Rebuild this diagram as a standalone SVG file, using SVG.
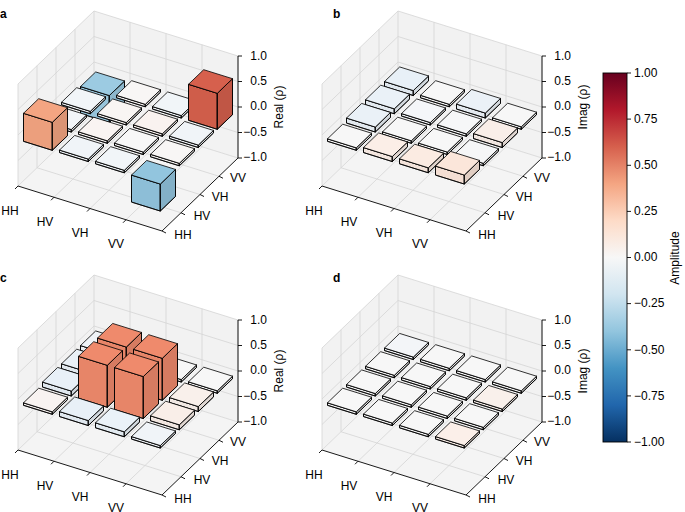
<svg xmlns="http://www.w3.org/2000/svg" xmlns:xlink="http://www.w3.org/1999/xlink" width="685" height="512" viewBox="0 0 685 512">
<style>
text{font-family:"Liberation Sans",Arial,sans-serif;font-size:12px;fill:#000}
.pane{fill:#f2f2f2;stroke:none}
.floor{fill:#f4f4f4;stroke:none}
.grid{stroke:#d4d4d4;stroke-width:0.8;fill:none}
.ax{stroke:#000;stroke-width:0.9;fill:none}
.bar polygon{stroke:#000;stroke-width:0.8;stroke-linejoin:round}
.s1{fill:#000;fill-opacity:0.03}
.s2{fill:#000;fill-opacity:0.1}
.lbl{font-weight:bold}
</style>
<defs>
<linearGradient id="cmap" x1="0" y1="0" x2="0" y2="1">
<stop offset="0" stop-color="#67001f"/><stop offset="0.1" stop-color="#b2182b"/><stop offset="0.2" stop-color="#d6604d"/><stop offset="0.3" stop-color="#f4a582"/><stop offset="0.4" stop-color="#fddbc7"/><stop offset="0.5" stop-color="#f7f7f7"/><stop offset="0.6" stop-color="#d1e5f0"/><stop offset="0.7" stop-color="#92c5de"/><stop offset="0.8" stop-color="#4393c3"/><stop offset="0.9" stop-color="#2166ac"/><stop offset="1" stop-color="#053061"/>
</linearGradient>
<g id="t" class="bar">
<polygon points="5.5,-0.7 34.3,8.3 34.3,5.8 5.5,-3.2"/><polygon class="s1" points="5.5,-0.7 34.3,8.3 34.3,5.8 5.5,-3.2"/>
<polygon points="34.3,8.3 49.5,-6.3 49.5,-8.8 34.3,5.8"/><polygon class="s2" points="34.3,8.3 49.5,-6.3 49.5,-8.8 34.3,5.8"/>
<polygon points="5.5,-3.2 34.3,5.8 49.5,-8.8 20.7,-17.8"/>
</g>
<g id="t2" class="bar">
<polygon points="5.5,-0.7 34.3,8.3 34.3,3.3 5.5,-5.7"/><polygon class="s1" points="5.5,-0.7 34.3,8.3 34.3,3.3 5.5,-5.7"/>
<polygon points="34.3,8.3 49.5,-6.3 49.5,-11.3 34.3,3.3"/><polygon class="s2" points="34.3,8.3 49.5,-6.3 49.5,-11.3 34.3,3.3"/>
<polygon points="5.5,-5.7 34.3,3.3 49.5,-11.3 20.7,-20.3"/>
</g>
<g id="t3" class="bar">
<polygon points="5.5,-0.7 34.3,8.3 34.3,-0.7 5.5,-9.7"/><polygon class="s1" points="5.5,-0.7 34.3,8.3 34.3,-0.7 5.5,-9.7"/>
<polygon points="34.3,8.3 49.5,-6.3 49.5,-15.3 34.3,-0.7"/><polygon class="s2" points="34.3,8.3 49.5,-6.3 49.5,-15.3 34.3,-0.7"/>
<polygon points="5.5,-9.7 34.3,-0.7 49.5,-15.3 20.7,-24.3"/>
</g>
<g id="uA" class="bar">
<polygon points="5.5,-0.7 34.3,8.3 34.3,-19.7 5.5,-28.7"/><polygon class="s1" points="5.5,-0.7 34.3,8.3 34.3,-19.7 5.5,-28.7"/>
<polygon points="34.3,8.3 49.5,-6.3 49.5,-34.3 34.3,-19.7"/><polygon class="s2" points="34.3,8.3 49.5,-6.3 49.5,-34.3 34.3,-19.7"/>
<polygon points="5.5,-28.7 34.3,-19.7 49.5,-34.3 20.7,-43.3"/>
</g>
<g id="uB" class="bar">
<polygon points="5.5,-0.7 34.3,8.3 34.3,-27.7 5.5,-36.7"/><polygon class="s1" points="5.5,-0.7 34.3,8.3 34.3,-27.7 5.5,-36.7"/>
<polygon points="34.3,8.3 49.5,-6.3 49.5,-42.3 34.3,-27.7"/><polygon class="s2" points="34.3,8.3 49.5,-6.3 49.5,-42.3 34.3,-27.7"/>
<polygon points="5.5,-36.7 34.3,-27.7 49.5,-42.3 20.7,-51.3"/>
</g>
<g id="uC" class="bar">
<polygon points="5.5,-0.7 34.3,8.3 34.3,-33.7 5.5,-42.7"/><polygon class="s1" points="5.5,-0.7 34.3,8.3 34.3,-33.7 5.5,-42.7"/>
<polygon points="34.3,8.3 49.5,-6.3 49.5,-48.3 34.3,-33.7"/><polygon class="s2" points="34.3,8.3 49.5,-6.3 49.5,-48.3 34.3,-33.7"/>
<polygon points="5.5,-42.7 34.3,-33.7 49.5,-48.3 20.7,-57.3"/>
</g>
<g id="dA" class="bar">
<polygon points="5.5,-0.7 34.3,8.3 34.3,35.3 5.5,26.3"/><polygon class="s1" points="5.5,-0.7 34.3,8.3 34.3,35.3 5.5,26.3"/>
<polygon points="34.3,8.3 49.5,-6.3 49.5,20.7 34.3,35.3"/><polygon class="s2" points="34.3,8.3 49.5,-6.3 49.5,20.7 34.3,35.3"/>
<polygon points="5.5,-0.7 34.3,8.3 49.5,-6.3 20.7,-15.3"/>
</g>
<g id="frame">
<polygon class="pane" points="94,113 238,158 238,56 94,11"/>
<polygon class="pane" points="18,186 94,113 94,11 18,84"/>
<polygon class="floor" points="18,186 162,231 238,158 94,113"/>
<g class="grid">
<path d="M94,113V11M130,124.25V22.25M166,135.5V33.5M202,146.75V44.75M238,158V56"/>
<path d="M94,113L238,158M94,87.5L238,132.5M94,62L238,107M94,36.5L238,81.5M94,11L238,56"/>
<path d="M18,186L94,113M18,160.5L94,87.5M18,135L94,62M18,109.5L94,36.5M18,84L94,11"/>
<path d="M18,186V84M37,167.75V65.75M56,149.5V47.5M75,131.25V29.25"/>
<path d="M54,197.25L130,124.25M90,208.5L166,135.5M126,219.75L202,146.75"/>
<path d="M37,167.75L181,212.75M56,149.5L200,194.5M75,131.25L219,176.25"/>
</g>
<g class="ax">
<path d="M18,186L162,231L238,158M238,158V56"/>
<path d="M18,186l-3,3M54,197.25l-3,3M90,208.5l-3,3M126,219.75l-3,3"/>
<path d="M162,231l4,2M181,212.75l4,2M200,194.5l4,2M219,176.25l4,2"/>
<path d="M238,158h4M238,132.5h4M238,107h4M238,81.5h4M238,56h4"/>
</g>
<g text-anchor="middle">
<text x="10" y="215">HH</text><text x="45" y="226">HV</text><text x="80" y="237">VH</text><text x="116" y="248">VV</text>
<text x="183" y="239">HH</text><text x="202" y="220">HV</text><text x="220" y="201">VH</text><text x="238" y="182">VV</text>
</g>
<g text-anchor="end">
<text x="267" y="161">−1.0</text><text x="267" y="136">−0.5</text><text x="267" y="110">0.0</text><text x="267" y="85">0.5</text><text x="267" y="60">1.0</text>
</g>
</g>
</defs>
<rect width="685" height="512" fill="#fff"/>

<g id="panel-a">
<use href="#frame"/>
<text class="lbl" x="0" y="18">a</text>
<text transform="translate(283,107) rotate(-90)" text-anchor="middle">Real (ρ)</text>
<g id="bars-a">
<use href="#dA" x="75" y="87.25" fill="#9ccbe2"/><use href="#t" x="111" y="98.5" fill="#f8f6f5"/><use href="#t" x="147" y="109.75" fill="#f1f5f8"/><use href="#uB" x="183" y="121" fill="#d6604d"/>
<use href="#t" x="56" y="105.5" fill="#f1f5f8"/><use href="#t" x="92" y="116.75" fill="#f8f5f3"/><use href="#t" x="128" y="128" fill="#f9f2ef"/><use href="#t" x="164" y="139.25" fill="#f0f4f8"/>
<use href="#t" x="37" y="123.75" fill="#f2f5f8"/><use href="#t" x="73" y="135" fill="#f9f4f2"/><use href="#t" x="109" y="146.25" fill="#f7f7f7"/><use href="#t" x="145" y="157.5" fill="#f8f6f5"/>
<use href="#uA" x="18" y="142" fill="#f4a582"/><use href="#t" x="54" y="153.25" fill="#f0f4f8"/><use href="#t" x="90" y="164.5" fill="#f1f5f8"/><use href="#dA" x="126" y="175.75" fill="#92c5de"/>
</g>
</g>

<g id="panel-b" transform="translate(304,0)">
<use href="#frame"/>
<text transform="translate(283,107) rotate(-90)" text-anchor="middle">Imag (ρ)</text>
<g id="bars-b">
<use href="#t2" x="75" y="87.25" fill="#e8f0f7"/><use href="#t" x="111" y="98.5" fill="#f7f7f7"/><use href="#t2" x="147" y="109.75" fill="#ebf1f7"/><use href="#t" x="183" y="121" fill="#f7f7f7"/>
<use href="#t2" x="56" y="105.5" fill="#eaf1f7"/><use href="#t" x="92" y="116.75" fill="#f4f6f9"/><use href="#t" x="128" y="128" fill="#f6f7f8"/><use href="#t2" x="164" y="139.25" fill="#f9eee8"/>
<use href="#t2" x="37" y="123.75" fill="#eaf1f7"/><use href="#t" x="73" y="135" fill="#f7f7f7"/><use href="#t" x="109" y="146.25" fill="#f7f7f7"/><use href="#t" x="145" y="157.5" fill="#f5f6f7"/>
<use href="#t" x="18" y="142" fill="#f7f7f7"/><use href="#t2" x="54" y="153.25" fill="#fbeee7"/><use href="#t2" x="90" y="164.5" fill="#fbebe2"/><use href="#t3" x="126" y="175.75" fill="#fbe6da"/>
</g>
</g>
<text class="lbl" x="333" y="18">b</text>

<g id="panel-c" transform="translate(0,264)">
<use href="#frame"/>
<text transform="translate(283,107) rotate(-90)" text-anchor="middle">Real (ρ)</text>
<g id="bars-c">
<use href="#t2" x="75" y="87.25" fill="#f0f4f8"/><use href="#t" x="111" y="98.5" fill="#f7f7f7"/><use href="#t" x="147" y="109.75" fill="#f7f7f7"/><use href="#t" x="183" y="121" fill="#f7f7f7"/>
<use href="#t2" x="56" y="105.5" fill="#eaf1f7"/><use href="#uC" x="92" y="116.75" fill="#ef8a6c"/><use href="#uC" x="128" y="128" fill="#ef8a6c"/><use href="#t2" x="164" y="139.25" fill="#f9f0eb"/>
<use href="#t2" x="37" y="123.75" fill="#e8f0f7"/><use href="#uC" x="73" y="135" fill="#ef8a6c"/><use href="#uC" x="109" y="146.25" fill="#ef8a6c"/><use href="#t2" x="145" y="157.5" fill="#f9eee8"/>
<use href="#t" x="18" y="142" fill="#f8f3f1"/><use href="#t2" x="54" y="153.25" fill="#e8f0f7"/><use href="#t2" x="90" y="164.5" fill="#eaf2f8"/><use href="#t" x="126" y="175.75" fill="#f0f4f8"/>
</g>
</g>
<text class="lbl" x="0" y="282">c</text>

<g id="panel-d" transform="translate(304,264)">
<use href="#frame"/>
<text transform="translate(283,107) rotate(-90)" text-anchor="middle">Imag (ρ)</text>
<g id="bars-d">
<use href="#t" x="75" y="87.25" fill="#f3f5f8"/><use href="#t" x="111" y="98.5" fill="#f7f7f7"/><use href="#t" x="147" y="109.75" fill="#f7f7f7"/><use href="#t" x="183" y="121" fill="#f7f7f7"/>
<use href="#t" x="56" y="105.5" fill="#f7f7f7"/><use href="#t" x="92" y="116.75" fill="#f7f7f7"/><use href="#t" x="128" y="128" fill="#f7f7f7"/><use href="#t" x="164" y="139.25" fill="#f9f0eb"/>
<use href="#t" x="37" y="123.75" fill="#f7f7f7"/><use href="#t" x="73" y="135" fill="#f7f7f7"/><use href="#t" x="109" y="146.25" fill="#f7f7f7"/><use href="#t" x="145" y="157.5" fill="#f7f7f7"/>
<use href="#t" x="18" y="142" fill="#f7f7f7"/><use href="#t" x="54" y="153.25" fill="#f7f7f7"/><use href="#t" x="90" y="164.5" fill="#f7f7f7"/><use href="#t" x="126" y="175.75" fill="#fbefe9"/>
</g>
</g>
<text class="lbl" x="333" y="282">d</text>

<g id="colorbar">
<rect x="603" y="73" width="24" height="369" fill="url(#cmap)" stroke="#000" stroke-width="0.9"/>
<path class="ax" d="M627,73h4M627,119.1h4M627,165.3h4M627,211.4h4M627,257.5h4M627,303.6h4M627,349.8h4M627,395.9h4M627,442h4"/>
<text x="634" y="77">1.00</text><text x="634" y="123">0.75</text><text x="634" y="169">0.50</text><text x="634" y="215">0.25</text><text x="634" y="261">0.00</text><text x="634" y="307">−0.25</text><text x="634" y="354">−0.50</text><text x="634" y="400">−0.75</text><text x="634" y="446">−1.00</text>
<text transform="translate(679,258) rotate(-90)" text-anchor="middle">Amplitude</text>
</g>
</svg>
